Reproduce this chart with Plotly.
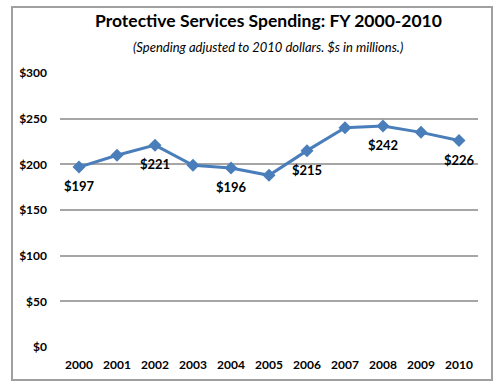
import plotly.graph_objects as go

years = ["2000", "2001", "2002", "2003", "2004", "2005", "2006", "2007", "2008", "2009", "2010"]
spending = [197, 210, 221, 199, 196, 188, 215, 240, 242, 235, 226]
label_years = ["2000", "2002", "2004", "2006", "2008", "2010"]
tick_vals = [0, 50, 100, 150, 200, 250, 300]
tick_text = ["$0", "$50", "$100", "$150", "$200", "$250", "$300"]

FONT = "Lato"
L, R, T, B = 60, 22, 73, 44
W, H = 500, 391
pw, ph = W - L - R, H - T - B

def px_to_paper_x(px):
    return (px - L) / pw

def px_to_paper_y(py):
    return (H - B - py) / ph

fig = go.Figure()
fig.add_trace(go.Scatter(
    x=years, y=spending,
    mode="lines+markers",
    line=dict(color="#4A7EBB", width=3),
    marker=dict(symbol="diamond", size=10, color="#4A7EBB"),
    cliponaxis=False,
    hoverinfo="skip",
))

annotations = [
    dict(x=i, y=v, xref="x", yref="y", text=f"${v}", showarrow=False,
         yshift=-19, xanchor="center", yanchor="middle",
         font=dict(family=FONT, size=13, color="#000", weight="bold"))
    for i, (yr, v) in enumerate(zip(years, spending)) if yr in label_years
]
annotations += [
    dict(text="Protective Services Spending: FY 2000-2010", xref="paper", yref="paper",
         x=px_to_paper_x(268), y=px_to_paper_y(20), xanchor="center", yanchor="middle",
         showarrow=False, font=dict(family=FONT, size=17.5, color="#000", weight="bold")),
    dict(text="<i>(Spending adjusted to 2010 dollars. $s in millions.)</i>", xref="paper", yref="paper",
         x=px_to_paper_x(268), y=px_to_paper_y(47), xanchor="center", yanchor="middle",
         showarrow=False, font=dict(family=FONT, size=13, color="#000")),
]

fig.update_layout(
    width=W, height=H,
    margin=dict(l=L, r=R, t=T, b=B),
    paper_bgcolor="white", plot_bgcolor="white",
    showlegend=False,
    xaxis=dict(type="category", categoryorder="array", categoryarray=years,
               range=[-0.5, len(years) - 0.5], showgrid=False, zeroline=False, showline=False,
               ticks="", ticklabelstandoff=9,
               tickfont=dict(family=FONT, size=12, color="#000", weight="bold")),
    yaxis=dict(range=[0, 300], tickvals=tick_vals, ticktext=tick_text,
               showgrid=True, gridcolor="#A6A6A6", gridwidth=1.5, zeroline=False,
               showline=False, ticks="", ticklabelstandoff=12,
               tickfont=dict(family=FONT, size=12, color="#000", weight="bold")),
    shapes=[dict(type="rect", xref="paper", yref="paper",
                 x0=px_to_paper_x(12), x1=px_to_paper_x(492),
                 y0=px_to_paper_y(380), y1=px_to_paper_y(7),
                 line=dict(color="#A0A0A0", width=2), layer="above")],
    annotations=annotations,
)

fig.write_html("out.html", config={"displayModeBar": False},
               post_script="document.body.style.margin='0';document.body.style.overflow='hidden';")
